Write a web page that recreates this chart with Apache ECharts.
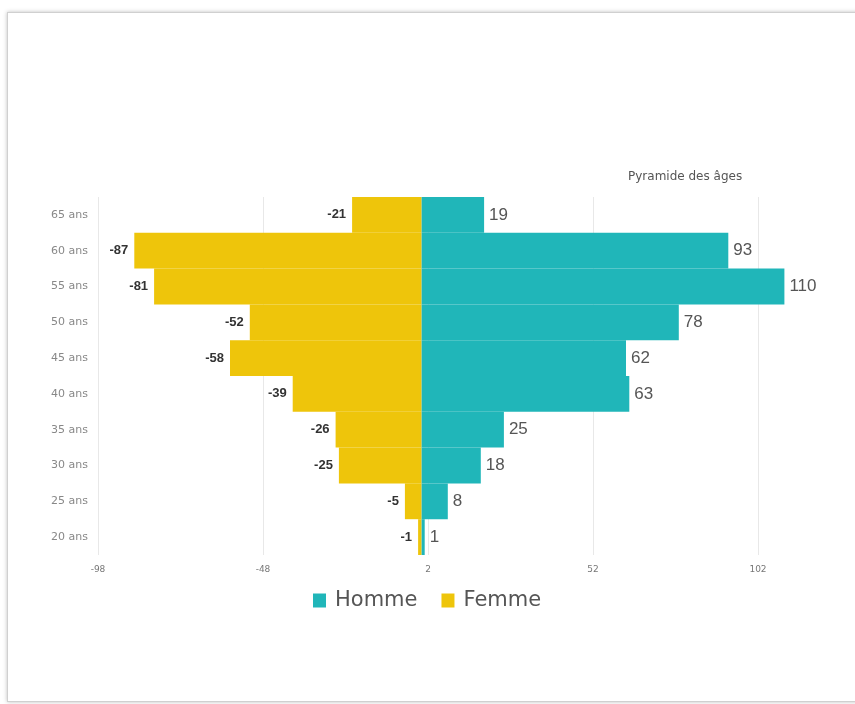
<!DOCTYPE html>
<html>
<head>
<meta charset="utf-8">
<script src="https://cdn.jsdelivr.net/npm/echarts@6/dist/echarts.min.js"></script>
<style>
html,body{margin:0;padding:0;background:#fff;width:855px;height:704px;overflow:hidden;}
#frame{position:absolute;left:7px;top:12px;width:900px;height:688px;border:1px solid #d0d0d0;box-shadow:0 0 4px rgba(0,0,0,0.25);background:#fff;}
#chart{position:absolute;left:0;top:0;width:1000px;height:704px;}
</style>
</head>
<body>
<div id="frame"></div>
<div id="chart"></div>
<script>
const categories = ['20 ans','25 ans','30 ans','35 ans','40 ans','45 ans','50 ans','55 ans','60 ans','65 ans'];
const homme = [1, 8, 18, 25, 63, 62, 78, 110, 93, 19];
const femme = [-1, -5, -25, -26, -39, -58, -52, -81, -87, -21];
const xTicksMin = -98, xTicksInterval = 50, xMax = 152;

const chart = echarts.init(document.getElementById('chart'), null, {renderer:'canvas'});
chart.setOption({
  animation:false,
  textStyle:{fontFamily:'Liberation Sans, Arial, sans-serif'},
  title:{text:'Pyramide des âges', left:623, top:166,
    textStyle:{fontSize:12, fontWeight:'normal', color:'#555', fontFamily:'DejaVu Sans'}},
  legend:{
    top:585, left:308,
    data:['Homme','Femme'],
    icon:'rect', itemWidth:13, itemHeight:14, itemGap:24,
    textStyle:{fontSize:21, color:'#555', fontFamily:'DejaVu Sans', padding:[0,0,0,4]}
  },
  grid:{left:98, right:77, top:197, height:358, containLabel:false},
  xAxis:{
    type:'value', min:xTicksMin, max:xMax, interval:xTicksInterval,
    axisLine:{show:false}, axisTick:{show:false},
    splitLine:{show:true, lineStyle:{color:'#e8e8e8'}},
    axisLabel:{fontSize:9, color:'#777', margin:10, fontFamily:'DejaVu Sans'}
  },
  yAxis:{
    type:'category', data:categories,
    axisLine:{show:false}, axisTick:{show:false},
    axisLabel:{fontSize:11, color:'#888', margin:10, fontFamily:'DejaVu Sans'}
  },
  series:[
    {name:'Homme', type:'bar', stack:'p', data:homme, barCategoryGap:'0%',
     itemStyle:{color:'#20B6B9'},
     label:{show:true, position:'right', distance:5, fontSize:17, color:'#555'}},
    {name:'Femme', type:'bar', stack:'p', data:femme, barCategoryGap:'0%',
     itemStyle:{color:'#EEC50B'},
     label:{show:true, position:'left', distance:6, fontSize:13, fontWeight:'bold', color:'#333'}}
  ]
});
</script>
</body>
</html>
